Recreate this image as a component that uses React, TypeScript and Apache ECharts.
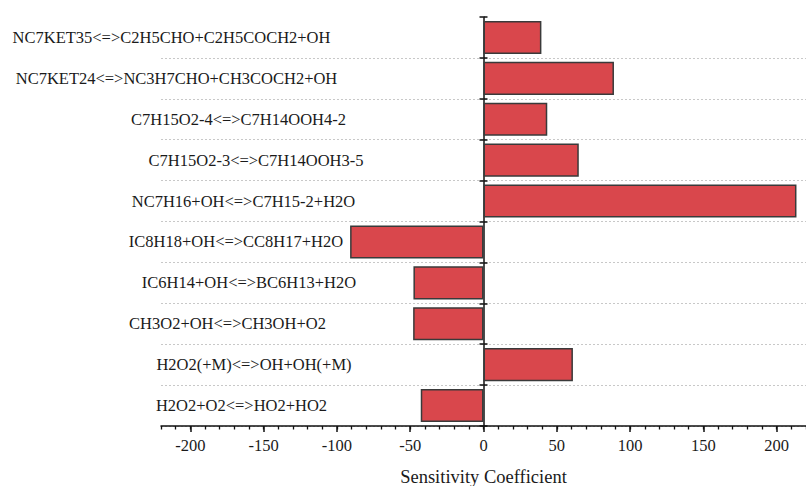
import React, { useEffect, useRef } from "react";
import * as echarts from "echarts";

const categories = [
  "NC7KET35<=>C2H5CHO+C2H5COCH2+OH",
  "NC7KET24<=>NC3H7CHO+CH3COCH2+OH",
  "C7H15O2-4<=>C7H14OOH4-2",
  "C7H15O2-3<=>C7H14OOH3-5",
  "NC7H16+OH<=>C7H15-2+H2O",
  "IC8H18+OH<=>CC8H17+H2O",
  "IC6H14+OH<=>BC6H13+H2O",
  "CH3O2+OH<=>CH3OH+O2",
  "H2O2(+M)<=>OH+OH(+M)",
  "H2O2+O2<=>HO2+HO2",
];

const sensitivity = [39.5, 89, 43.5, 65, 213.5, -91, -47.8, -48, 61, -42.8];

const majorTicks = [-200, -150, -100, -50, 0, 50, 100, 150, 200];
const minorTicks = [
  -220, -210, -200, -190, -180, -170, -160, -150, -140, -130, -120, -110, -100,
  -90, -80, -70, -60, -50, -40, -30, -20, -10, 0, 10, 20, 30, 40, 50, 60, 70, 80,
  90, 100, 110, 120, 130, 140, 150, 160, 170, 180, 190, 200, 210, 220,
];

const axisTitle = "Sensitivity Coefficient";

// per-label horizontal shift (right padding, px) to mimic the reference's uneven label placement
const labelShift = [169, 159, 35, 0, 25, 40, 14, 57, 4, 29];

const FONT = "Liberation Serif";

export default function App() {
  const ref = useRef<HTMLDivElement>(null);

  useEffect(() => {
    if (!ref.current) return;
    const chart = echarts.init(ref.current, null, { renderer: "svg" });

    const rich: Record<string, any> = {};
    labelShift.forEach((p, i) => {
      rich["r" + i] = {
        fontFamily: FONT,
        fontSize: 16.5,
        color: "#1a1a1a",
        padding: [0, p, 0, 0],
      };
    });

    chart.setOption({
      animation: false,
      backgroundColor: "#ffffff",
      textStyle: { fontFamily: FONT },
      grid: {
        left: 161,
        right: 0,
        top: 17,
        bottom: 60,
        containLabel: false,
        outerBoundsMode: "none",
      },
      xAxis: [
        {
          type: "value",
          min: -220,
          max: 220,
          position: "bottom",
          axisLine: { show: true, onZero: false, lineStyle: { color: "#111", width: 1.5 } },
          axisTick: {
            show: true,
            inside: false,
            length: 6,
            customValues: majorTicks,
            lineStyle: { color: "#111", width: 1.5 },
          },
          axisLabel: {
            customValues: majorTicks,
            margin: 11,
            fontFamily: FONT,
            fontSize: 16.5,
            color: "#1a1a1a",
          },
          splitLine: { show: false },
          name: axisTitle,
          nameLocation: "middle",
          nameGap: 41,
          nameTextStyle: { fontFamily: FONT, fontSize: 18.5, color: "#1a1a1a" },
        },
        {
          type: "value",
          min: -220,
          max: 220,
          position: "bottom",
          axisLine: { show: false, onZero: false },
          axisTick: {
            show: true,
            inside: false,
            length: 3.5,
            customValues: minorTicks,
            lineStyle: { color: "#111", width: 1.3 },
          },
          axisLabel: { show: false },
          splitLine: { show: false },
        },
      ],
      yAxis: [
        {
          type: "category",
          data: categories,
          inverse: true,
          position: "left",
          axisLine: { show: true, onZero: true, lineStyle: { color: "#111", width: 1.5 } },
          axisTick: { show: true, inside: false, length: 4, lineStyle: { color: "#111", width: 1.5 } },
          axisLabel: {
            align: "center",
            margin: -95,
            formatter: (value: string, index: number) => `{r${index}|${value}}`,
            rich,
          },
          splitLine: {
            show: true,
            interval: (index: number) => index !== 0,
            lineStyle: { color: "#c8c8c8", type: [2, 2], width: 1 },
          },
        },
        {
          type: "category",
          data: categories,
          inverse: true,
          position: "left",
          axisLine: { show: false, onZero: true },
          axisTick: { show: true, inside: true, length: 4, lineStyle: { color: "#111", width: 1.5 } },
          axisLabel: { show: false },
          splitLine: { show: false },
        },
      ],
      series: [
        {
          type: "bar",
          xAxisIndex: 0,
          yAxisIndex: 0,
          data: sensitivity,
          barCategoryGap: "19%",
          itemStyle: {
            color: "#d9474c",
            borderColor: "#3a3a3a",
            borderWidth: 1.5,
          },
        },
      ],
    });

    return () => chart.dispose();
  }, []);

  return (
    <div
      ref={ref}
      style={{ position: "absolute", left: 0, top: 0, width: 806, height: 486 }}
    />
  );
}
